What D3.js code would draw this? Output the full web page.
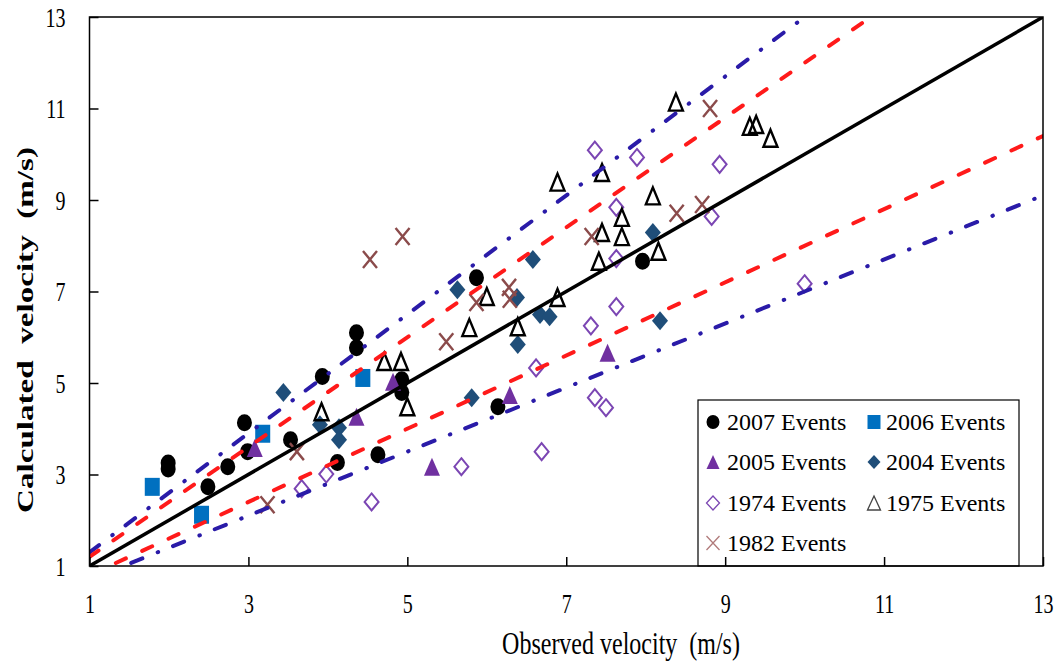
<!DOCTYPE html>
<html>
<head>
<meta charset="utf-8">
<script src="https://cdn.jsdelivr.net/npm/d3@7"></script>
<style>
  body { margin: 0; background: #fff; }
  svg { display: block; }
  text { font-family: "Liberation Serif", "Times New Roman", serif; fill: #000; }
</style>
</head>
<body>
<svg id="chart" width="1059" height="663"></svg>
<script>
// Axis ticks
const xTicks = [1, 3, 5, 7, 9, 11, 13];
const yTicks = [1, 3, 5, 7, 9, 11, 13];

// Observed (x) and calculated (y) velocities, m/s, per event set
const obs2007  = [1.99, 1.99, 2.49, 2.74, 2.95, 2.99, 3.53, 3.93, 4.12, 4.36, 4.36, 4.63, 4.93, 4.93, 5.87, 6.14, 7.96];
const calc2007 = [3.25, 3.12, 2.73, 3.17, 4.13, 3.50, 3.76, 5.14, 3.26, 6.10, 5.77, 3.43, 5.07, 4.79, 7.30, 4.48, 7.66];

const obs2006  = [1.79, 2.41, 3.18, 4.44];
const calc2006 = [2.73, 2.12, 3.89, 5.11];

const obs2005  = [3.08, 4.36, 4.82, 5.31, 6.29, 7.52];
const calc2005 = [3.58, 4.26, 5.03, 3.17, 4.74, 5.66];

const obs2004  = [3.44, 3.90, 4.14, 4.14, 5.63, 5.81, 6.38, 6.39, 6.58, 6.67, 6.79, 8.09, 8.18];
const calc2004 = [4.79, 4.09, 4.02, 3.76, 7.04, 4.68, 6.87, 5.84, 7.70, 6.50, 6.45, 8.29, 6.36];

const obs1974  = [3.67, 3.98, 4.55, 5.68, 6.62, 6.69, 7.31, 7.36, 7.50, 7.36, 7.63, 7.63, 7.63, 7.89, 8.83, 8.93, 10.00];
const calc1974 = [2.69, 3.01, 2.40, 3.17, 5.33, 3.50, 6.25, 4.68, 4.46, 10.09, 8.84, 7.72, 6.67, 9.93, 8.64, 9.78, 7.17];

const obs1975  = [3.92, 4.71, 4.92, 5.00, 5.78, 6.00, 6.39, 6.89, 6.89, 7.41, 7.45, 7.45, 7.70, 7.70, 8.09, 8.16, 8.38, 9.31, 9.39, 9.57];
const calc1975 = [4.37, 5.47, 5.47, 4.48, 6.21, 6.89, 6.23, 6.87, 9.39, 7.66, 8.29, 9.60, 8.20, 8.62, 9.09, 7.88, 11.14, 10.61, 10.65, 10.35];

const obs1982  = [3.24, 3.61, 4.53, 4.94, 5.49, 5.87, 6.28, 6.29, 7.32, 8.39, 8.71, 8.81];
const calc1982 = [2.34, 3.50, 7.70, 8.20, 5.90, 6.76, 7.09, 6.83, 8.20, 8.71, 8.90, 11.00];

// Reference lines y = k * x
const perfectRatio = [1.0];
const band20Ratios = [1.2, 0.8];
const band30Ratios = [1.3, 0.7];

const seriesLabels = ["2007 Events", "2006 Events", "2005 Events", "2004 Events", "1974 Events", "1975 Events", "1982 Events"];

// ---- presentation ----
const series = [
  { label: seriesLabels[0], xs: obs2007, ys: calc2007, shape: "circle",   fill: "#000000", stroke: "none",    sw: 0,   w: 15, h: 17 },
  { label: seriesLabels[1], xs: obs2006, ys: calc2006, shape: "square",   fill: "#0070C0", stroke: "none",    sw: 0,   w: 15, h: 18 },
  { label: seriesLabels[2], xs: obs2005, ys: calc2005, shape: "triangle", fill: "#7030A0", stroke: "none",    sw: 0,   w: 16, h: 18 },
  { label: seriesLabels[3], xs: obs2004, ys: calc2004, shape: "diamond",  fill: "#1F4E79", stroke: "none",    sw: 0,   w: 16, h: 19 },
  { label: seriesLabels[4], xs: obs1974, ys: calc1974, shape: "diamond",  fill: "none",    stroke: "#7B46B3", sw: 2,   w: 14, h: 17 },
  { label: seriesLabels[5], xs: obs1975, ys: calc1975, shape: "triangle", fill: "none",    stroke: "#000000", sw: 2.4, w: 14, h: 17 },
  { label: seriesLabels[6], xs: obs1982, ys: calc1982, shape: "cross",    fill: "none",    stroke: "#8B4B4B", sw: 2.4, w: 14, h: 17 }
];

const svg = d3.select("#chart");
const plotL = 89.5, plotR = 1043, plotT = 17, plotB = 566;

const x = d3.scaleLinear().domain([1, 13]).range([plotL, plotR]);
const y = d3.scaleLinear().domain([1, 13]).range([plotB, plotT]);

svg.append("defs").append("clipPath").attr("id", "plotClip")
  .append("rect").attr("x", plotL).attr("y", plotT).attr("width", plotR - plotL).attr("height", plotB - plotT);

function markerPath(shape, cx, cy, w, h) {
  const hw = w / 2, hh = h / 2;
  if (shape === "triangle") return `M${cx},${cy - hh}L${cx + hw},${cy + hh}L${cx - hw},${cy + hh}Z`;
  if (shape === "diamond")  return `M${cx},${cy - hh}L${cx + hw},${cy}L${cx},${cy + hh}L${cx - hw},${cy}Z`;
  if (shape === "cross")    return `M${cx - hw},${cy - hh}L${cx + hw},${cy + hh}M${cx + hw},${cy - hh}L${cx - hw},${cy + hh}`;
  if (shape === "square")   return `M${cx - hw},${cy - hh}h${w}v${h}h${-w}Z`;
  // ellipse as two arcs
  return `M${cx - hw},${cy}A${hw},${hh} 0 1,0 ${cx + hw},${cy}A${hw},${hh} 0 1,0 ${cx - hw},${cy}Z`;
}

// ---- markers ----
const markers = svg.append("g");
series.forEach(s => {
  const pts = s.xs.map((v, i) => [v, s.ys[i]]);
  markers.append("g").selectAll("path").data(pts).join("path")
    .attr("d", d => markerPath(s.shape, x(d[0]), y(d[1]), s.w, s.h))
    .attr("fill", s.fill)
    .attr("stroke", s.stroke)
    .attr("stroke-width", s.sw)
    .attr("stroke-linejoin", "miter");
});

// ---- reference lines ----
const lineGen = k => d3.line()([[1, k * 1], [13, k * 13]].map(p => [x(p[0]), y(p[1])]));
const lines = svg.append("g").attr("clip-path", "url(#plotClip)");

band30Ratios.forEach(k => {
  lines.append("path").attr("d", lineGen(k))
    .attr("fill", "none").attr("stroke", "#2A1BA8").attr("stroke-width", 4)
    .attr("stroke-linecap", "round").attr("stroke-dasharray", "12,16.5,0.5,16");
});
band20Ratios.forEach(k => {
  lines.append("path").attr("d", lineGen(k))
    .attr("fill", "none").attr("stroke", "#FF1A1A").attr("stroke-width", 4)
    .attr("stroke-linecap", "round").attr("stroke-dasharray", "11,18");
});
perfectRatio.forEach(k => {
  lines.append("path").attr("d", lineGen(k))
    .attr("fill", "none").attr("stroke", "#000").attr("stroke-width", 3.5);
});

// ---- legend ----
const legend = svg.append("g");
const lgX = 698, lgY = 400, lgW = 321, lgH = 166;
legend.append("rect").attr("x", lgX).attr("y", lgY).attr("width", lgW).attr("height", lgH)
  .attr("fill", "#fff").attr("stroke", "#000").attr("stroke-width", 1.2);
const rowY = [422, 462, 503, 543];
const colMarkX = [713, 874];
const colTextX = [727, 886];
series.forEach((s, i) => {
  const col = i % 2, row = Math.floor(i / 2);
  const cx = colMarkX[col], cy = rowY[row];
  legend.append("path")
    .attr("d", markerPath(s.shape, cx, cy, 13, 14))
    .attr("fill", s.fill)
    .attr("stroke", s.stroke === "#000000" ? "#444" : (s.stroke === "#8B4B4B" ? "#B07A7A" : s.stroke))
    .attr("stroke-width", s.sw ? 1.3 : 0);
  legend.append("text").attr("x", colTextX[col]).attr("y", cy + 8)
    .attr("font-size", 24).text(s.label);
});

// ---- frame and axes ----
const axes = svg.append("g");
axes.append("rect").attr("x", plotL).attr("y", plotT).attr("width", plotR - plotL).attr("height", plotB - plotT)
  .attr("fill", "none").attr("stroke", "#000").attr("stroke-width", 1.5);

const xAxis = d3.axisBottom(x).tickValues(xTicks).tickSizeInner(-9).tickSizeOuter(0).tickFormat(d3.format("d"));
const yAxis = d3.axisLeft(y).tickValues(yTicks).tickSizeInner(-9).tickSizeOuter(0).tickFormat(d3.format("d"));

const gx = axes.append("g").attr("transform", `translate(0,${plotB})`).call(xAxis);
const gy = axes.append("g").attr("transform", `translate(${plotL},0)`).call(yAxis);
[gx, gy].forEach(g => {
  g.select(".domain").remove();
  g.selectAll(".tick line").attr("stroke", "#000").attr("stroke-width", 1.5);
  g.selectAll(".tick text").remove();
});

// tick labels (glyphs drawn tall and narrow)
gx.selectAll(".tick").append("text")
  .attr("transform", "translate(0,47) scale(1,1.38)")
  .attr("text-anchor", "middle").attr("font-size", 20)
  .text(d => d);
gy.selectAll(".tick").append("text")
  .attr("transform", "translate(-24,0) scale(1,1.38)")
  .attr("dy", "0.34em")
  .attr("text-anchor", "end").attr("font-size", 20)
  .text(d => d);

// axis titles
svg.append("text")
  .attr("transform", "translate(621,654) scale(1,1.3)")
  .attr("text-anchor", "middle").attr("font-size", 24)
  .style("white-space", "pre")
  .text("Observed velocity  (m/s)");

svg.append("text")
  .attr("transform", "translate(33,330) rotate(-90) scale(1.38,1)")
  .attr("text-anchor", "middle").attr("font-size", 24).attr("font-weight", "bold")
  .style("white-space", "pre")
  .text("Calculated  velocity  (m/s)");
</script>
</body>
</html>
